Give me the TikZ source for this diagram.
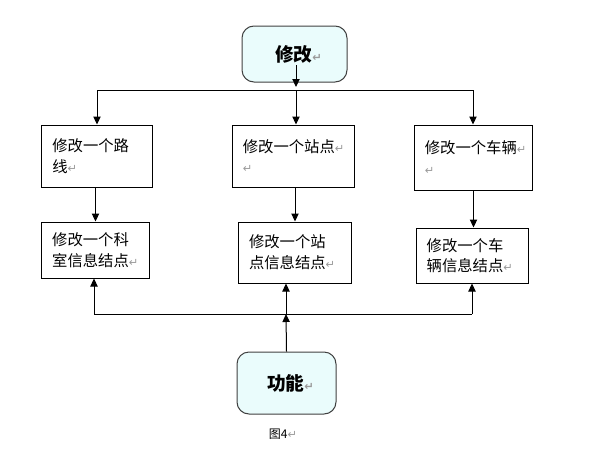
\documentclass[tikz,border=0pt]{standalone}
\usepackage{fontspec}
\setmainfont{Noto Sans CJK SC}
\newfontfamily\markfont{DejaVu Sans}
\usetikzlibrary{arrows.meta}
\definecolor{boxcyan}{HTML}{EAFCFC}
\definecolor{rimgray}{HTML}{404040}
\definecolor{markgray}{HTML}{9A9A9A}
\newcommand{\pmark}{{\markfont\fontsize{8.5pt}{8.5pt}\selectfont\color{markgray}↵}}

\begin{document}
\begin{tikzpicture}[x=0.75pt, y=-0.75pt,
    every node/.style={font=\fontsize{11.5pt}{15.5pt}\selectfont},
    infobox/.style={draw=black, line width=0.75pt, align=left, inner xsep=8pt, inner ysep=0pt},
    headbox/.style={draw=rimgray, fill=boxcyan, line width=0.75pt, rounded corners=9pt,
      inner xsep=0pt, font=\fontsize{14pt}{16pt}\selectfont\bfseries},
    arr/.style={line width=0.75pt, -{Triangle[width=5.5pt,length=6pt]}},
    wire/.style={line width=0.75pt}]
  \useasboundingbox (0,0) rectangle (592,457);
  % top and bottom boxes
  \node[headbox, minimum width=78.75pt, minimum height=42pt] (edit) at (294.5,54) {\hspace*{6pt}修改\pmark};
  \node[headbox, minimum width=74.25pt, minimum height=46.5pt] (func) at (286.5,383) {\hspace*{6pt}功能\pmark};
  % first row
  \node[infobox, text width=67pt, minimum height=46.5pt] (route) at (97,156) {修改一个路\\线\pmark};
  \node[infobox, text width=76pt, minimum height=46.5pt] (stop) at (293.5,156) {修改一个站点\pmark\\\pmark};
  \node[infobox, text width=73pt, minimum height=48.75pt] (bus) at (473.5,157.5) {修改一个车辆\pmark\\\pmark};
  % second row
  \node[infobox, text width=65pt, minimum height=42pt] (dept) at (95.5,250) {修改一个科\\室信息结点\pmark};
  \node[infobox, text width=69pt, minimum height=45.75pt] (stopinfo) at (295,252.5) {修改一个站\\点信息结点\pmark};
  \node[infobox, text width=68pt, minimum height=41.25pt] (businfo) at (472,255.5) {修改一个车\\辆信息结点\pmark};
  \node[font=\fontsize{9pt}{10pt}\selectfont] (cap) at (283,434) {图4\pmark};
  % junctions
  \coordinate (editin) at (296,65);
  \coordinate (edittip) at (296,87);
  \coordinate (topL) at (97,90);
  \coordinate (topM) at (296,90);
  \coordinate (topR) at (473,90);
  \coordinate (baseL) at (94,314);
  \coordinate (baseM) at (286,314);
  \coordinate (baseR) at (472,314);
  % downward links
  \draw[arr] (editin) -- (edittip);
  \draw[wire] (topL) -- (topR);
  \draw[arr] (topL) -- (topL |- route.north);
  \draw[arr] (topM) -- (topM |- stop.north);
  \draw[arr] (topR) -- (topR |- bus.north);
  \draw[arr] (dept.north |- route.south) -- (dept.north);
  \draw[arr] (stopinfo.north |- stop.south) -- (stopinfo.north);
  \draw[arr] (bus.south) -- (bus.south |- businfo.north);
  % upward links
  \draw[wire] (baseL) -- (baseR);
  \draw[arr] (func.north) -- (baseM);
  \draw[arr] (baseL) -- (baseL |- dept.south);
  \draw[arr] (baseM) -- (baseM |- stopinfo.south);
  \draw[arr] (baseR) -- (baseR |- businfo.south);
\end{tikzpicture}
\end{document}
